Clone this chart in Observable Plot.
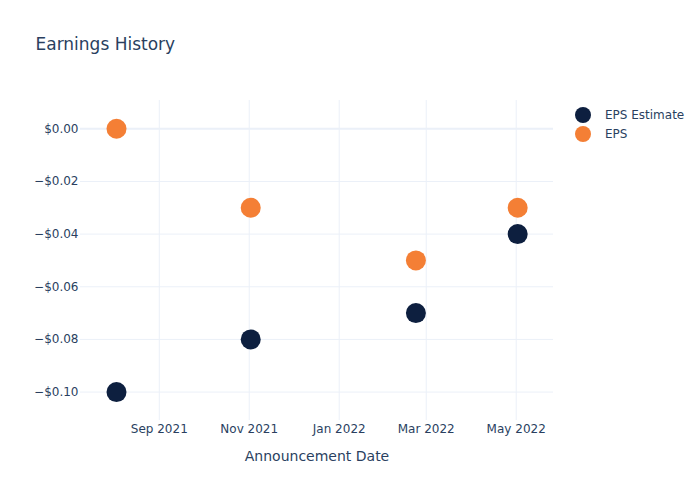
<!DOCTYPE html>
<html>
<head>
<meta charset="utf-8">
<script src="https://cdn.jsdelivr.net/npm/d3@7"></script>
<script src="https://cdn.jsdelivr.net/npm/@observablehq/plot@0.6"></script>
<style>
  body { margin: 0; background: #fff; font-family: "DejaVu Sans", sans-serif; }
  #wrap { position: relative; width: 700px; height: 500px; }
  #legend { position: absolute; left: 575px; top: 106px; font-size: 12px; color: #2a3f5f; }
  .item { display: flex; align-items: center; height: 18.7px; }
  .sw { width: 16px; height: 16px; border-radius: 50%; margin-right: 14px; }
</style>
</head>
<body>
<div id="wrap"><div id="legend"></div></div>
<script>
const titleText = "Earnings History";
const xLabel = "Announcement Date";
const dates = ["2021-08-03", "2021-11-02", "2022-02-22", "2022-05-02"];
const epsEstimate = [-0.10, -0.08, -0.07, -0.04];
const eps = [0.00, -0.03, -0.05, -0.03];
const seriesNames = ["EPS Estimate", "EPS"];
const seriesColors = ["#0d1f3f", "#f47f35"];
const xTicks = ["2021-09-01", "2021-11-01", "2022-01-01", "2022-03-01", "2022-05-01"];
const yTicks = [0.00, -0.02, -0.04, -0.06, -0.08, -0.10];

const rows = [];
seriesNames.forEach((s, i) => {
  const vals = i === 0 ? epsEstimate : eps;
  dates.forEach((d, j) => rows.push({ date: new Date(d), value: vals[j], series: s }));
});
const xTickDates = xTicks.map(d => new Date(d));

const chart = Plot.plot({
  width: 700,
  height: 500,
  marginLeft: 80,
  marginRight: 147,
  marginTop: 100,
  marginBottom: 80,
  style: { fontFamily: "DejaVu Sans, sans-serif", fontSize: "12px", color: "#2a3f5f", background: "#fff", overflow: "visible" },
  x: { type: "utc", domain: [new Date("2021-07-09T14:00Z"), new Date("2022-05-26T07:00Z")] },
  y: { domain: [-0.1108, 0.01075] },
  color: { domain: seriesNames, range: seriesColors },
  marks: [
    Plot.gridX(xTickDates, { stroke: "#EBF0F8", strokeOpacity: 1 }),
    Plot.gridY(yTicks, { stroke: "#EBF0F8", strokeOpacity: 1 }),
    Plot.ruleY([0], { stroke: "#EBF0F8", strokeWidth: 2 }),
    Plot.axisX(xTickDates, { tickSize: 0, tickPadding: 4, tickFormat: d3.utcFormat("%b %Y"), label: null, fill: "#2a3f5f" }),
    Plot.axisY(yTicks, { tickSize: 0, tickPadding: 2, tickFormat: d3.format("$.2f"), label: null, fill: "#2a3f5f" }),
    Plot.dot(rows, { x: "date", y: "value", fill: "series", r: 10 }),
    Plot.text([titleText], { frameAnchor: "top-left", textAnchor: "start", lineAnchor: "middle", dx: -45, dy: -56, fontSize: 17, fill: "#2a3f5f" }),
    Plot.text([xLabel], { frameAnchor: "bottom", lineAnchor: "middle", dy: 36, fontSize: 14, fill: "#2a3f5f" })
  ]
});
document.getElementById("wrap").prepend(chart);

const legend = document.getElementById("legend");
seriesNames.forEach((s, i) => {
  const item = document.createElement("div");
  item.className = "item";
  const sw = document.createElement("div");
  sw.className = "sw";
  sw.style.background = seriesColors[i];
  const t = document.createElement("span");
  t.textContent = s;
  item.appendChild(sw);
  item.appendChild(t);
  legend.appendChild(item);
});
</script>
</body>
</html>
